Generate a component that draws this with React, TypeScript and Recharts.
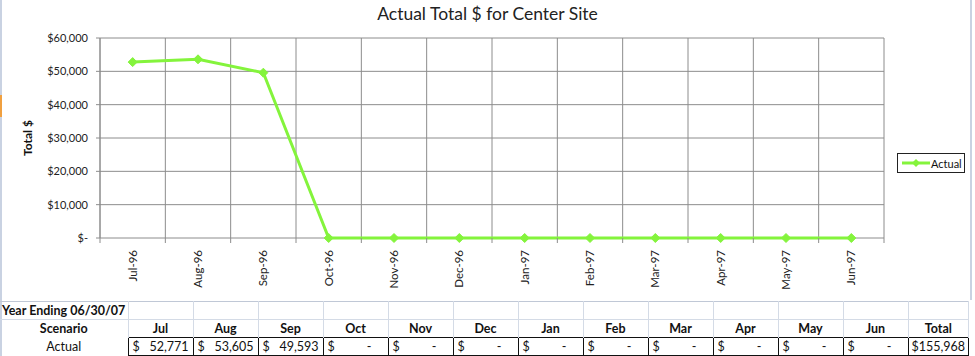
import React from 'react';
import { LineChart, Line, XAxis, YAxis, CartesianGrid, Legend } from 'recharts';

const months = ['Jul-96', 'Aug-96', 'Sep-96', 'Oct-96', 'Nov-96', 'Dec-96', 'Jan-97', 'Feb-97', 'Mar-97', 'Apr-97', 'May-97', 'Jun-97'];
const actual = [52771, 53605, 49593, 0, 0, 0, 0, 0, 0, 0, 0, 0];
const tableMonths = ['Jul', 'Aug', 'Sep', 'Oct', 'Nov', 'Dec', 'Jan', 'Feb', 'Mar', 'Apr', 'May', 'Jun'];
const yTicks = [0, 10000, 20000, 30000, 40000, 50000, 60000];
const totalValue = 155968;
const yearLabel = 'Year Ending 06/30/07';
const scenario = 'Actual';

const data = months.map((m, i) => ({ month: m, Actual: actual[i] }));

const GREEN = '#84f43c';
const GRID = '#8c8c8c';
const FONT = 'Lato, "Open Sans", sans-serif';

const fmtMoney = (v: number) => (v === 0 ? '$-' : '$' + v.toLocaleString('en-US'));

const XTick = (props: any) => {
  const { x, y, payload, index } = props;
  const half = payload && payload.offset ? payload.offset : 0;
  return (
    <g>
      <line x1={x - half} y1={y - 5} x2={x - half} y2={y} stroke={GRID} />
      {index === months.length - 1 && <line x1={x + half} y1={y - 5} x2={x + half} y2={y} stroke={GRID} />}
      <g transform={`translate(${x},${y})`}>
        <text transform="rotate(-90)" x={-7} y={0} dy={4} textAnchor="end" fontSize={11.5} fill="#222" fontFamily={FONT}>
          {payload.value}
        </text>
      </g>
    </g>
  );
};

const Diamond = (props: any) => {
  const { cx, cy } = props;
  if (cx == null || cy == null) return null;
  const r = 4.5;
  return <path d={`M${cx},${cy - r}L${cx + r},${cy}L${cx},${cy + r}L${cx - r},${cy}Z`} fill={GREEN} stroke={GREEN} />;
};

const LegendBox = () => (
  <div style={{ border: '1px solid #222', background: '#fff', height: 20, width: 68, boxSizing: 'border-box', display: 'flex', alignItems: 'center', fontFamily: FONT, fontSize: 11, color: '#111' }}>
    <svg width={30} height={10} style={{ marginLeft: 3 }}>
      <line x1={1} y1={5} x2={29} y2={5} stroke={GREEN} strokeWidth={3} />
      <path d="M15,1L19,5L15,9L11,5Z" fill={GREEN} />
    </svg>
    <span>Actual</span>
  </div>
);

const verticalGen = (props: any) => {
  const { offset } = props;
  const n = months.length;
  return Array.from({ length: n + 1 }, (_, i) => offset.left + (i * offset.width) / n);
};

const cellLight = '1px solid #d4dbe6';
const cellDark = '1px solid #111';

const MoneyCell = ({ v }: { v: number }) => (
  <div style={{ display: 'flex', justifyContent: 'space-between', padding: '0 4px' }}>
    <span>$</span>
    <span style={{ paddingRight: v === 0 ? 12 : 0 }}>{v === 0 ? '-' : v.toLocaleString('en-US')}</span>
  </div>
);

export default function App() {
  const colW = 65;
  const firstW = 128;
  const totalW = 58;
  const rowH = 18;
  return (
    <div style={{ position: 'absolute', left: 0, top: 0, width: 975, height: 356, background: '#fff', overflow: 'hidden' }}>
      <div style={{ position: 'absolute', left: 0, top: 0, width: 2, height: 356, background: '#c9d2e2' }} />
      <div style={{ position: 'absolute', left: 0, top: 95, width: 2, height: 22, background: '#f0a040' }} />
      <div style={{ position: 'absolute', left: 970, top: 0, width: 2, height: 300, background: '#c9d2e2' }} />
      <div style={{ position: 'absolute', left: 0, top: 3, width: 975, textAlign: 'center', fontFamily: FONT, fontSize: 17.5, color: '#222' }}>
        Actual Total $ for Center Site
      </div>
      <LineChart width={975} height={300} data={data} margin={{ top: 38, right: 23, bottom: 12, left: 0 }}>
        <XAxis dataKey="month" scale="band" interval={0} tick={<XTick />} tickLine={false} tickSize={5} tickMargin={0} axisLine={false} height={50} />
        <YAxis
          domain={[0, 60000]}
          ticks={yTicks}
          tickFormatter={fmtMoney}
          width={100}
          tick={{ fontSize: 11, fill: '#222', fontFamily: FONT }}
          tickLine={{ stroke: GRID }}
          tickSize={4}
          tickMargin={8}
          axisLine={{ stroke: GRID }}
          label={{ value: 'Total $', angle: -90, position: 'insideLeft', offset: 28, style: { fontSize: 12, fontWeight: 'bold', fill: '#111', fontFamily: FONT, textAnchor: 'middle' } }}
        />
        <CartesianGrid stroke={GRID} verticalCoordinatesGenerator={verticalGen} />
        <Legend layout="vertical" align="right" verticalAlign="middle" content={<LegendBox />} wrapperStyle={{ position: 'absolute', left: 897, top: 153, width: 68 }} />
        <Line dataKey="Actual" stroke={GREEN} strokeWidth={3} dot={<Diamond />} activeDot={false} isAnimationActive={false} />
      </LineChart>
      <table style={{ position: 'absolute', left: 0, top: 301, borderCollapse: 'collapse', fontFamily: FONT, fontSize: 12.5, color: '#111', tableLayout: 'fixed' }}>
        <colgroup>
          <col style={{ width: firstW }} />
          {tableMonths.map((m) => (
            <col key={m} style={{ width: colW }} />
          ))}
          <col style={{ width: totalW }} />
        </colgroup>
        <tbody>
          <tr style={{ height: rowH, borderTop: '1px solid #c0c8d6' }}>
            <td style={{ fontWeight: 'bold', borderRight: cellLight, borderBottom: cellLight, padding: '0 2px', whiteSpace: 'nowrap' }}>{yearLabel}</td>
            {tableMonths.map((m) => (
              <td key={m} style={{ borderRight: cellLight, borderBottom: cellLight }} />
            ))}
            <td style={{ borderRight: cellLight, borderBottom: cellLight }} />
          </tr>
          <tr style={{ height: rowH }}>
            <td style={{ fontWeight: 'bold', textAlign: 'center', borderRight: cellLight, padding: 0 }}>Scenario</td>
            {tableMonths.map((m) => (
              <td key={m} style={{ fontWeight: 'bold', textAlign: 'center', borderRight: cellLight, padding: 0 }}>{m}</td>
            ))}
            <td style={{ fontWeight: 'bold', textAlign: 'center', borderRight: cellLight, padding: 0 }}>Total</td>
          </tr>
          <tr style={{ height: rowH }}>
            <td style={{ textAlign: 'center', borderRight: cellDark, padding: 0 }}>{scenario}</td>
            {actual.map((v, i) => (
              <td key={i} style={{ border: cellDark, padding: 0 }}>
                <MoneyCell v={v} />
              </td>
            ))}
            <td style={{ border: cellDark, padding: '0 3px', textAlign: 'right' }}>${totalValue.toLocaleString('en-US')}</td>
          </tr>
        </tbody>
      </table>
    </div>
  );
}
